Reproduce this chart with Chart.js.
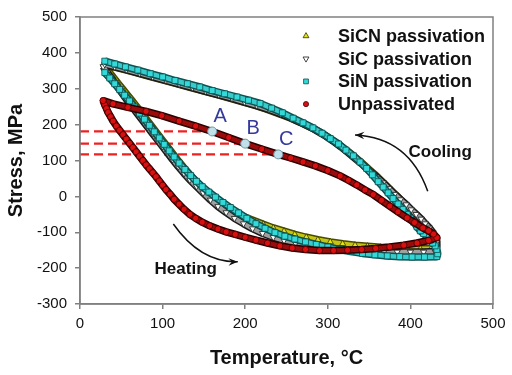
<!DOCTYPE html>
<html>
<head>
<meta charset="utf-8">
<script src="https://cdn.jsdelivr.net/npm/chart.js@4.4.0/dist/chart.umd.min.js"></script>
<style>
  html, body { margin: 0; padding: 0; background: #fff; }
  #wrap { width: 512px; height: 375px; }
</style>
</head>
<body>
<div id="wrap"><canvas id="stressChart"></canvas></div>
<script>
// Stress vs temperature loops (heating then cooling)
const sicnT = [29,34,40,46,52,58,64,70,76,82,88,94,100,106,112,118,125,132,139,146,154,162,171,180,190,200,211,222,234,247,260,274,288,303,318,333,348,364,380,396,412,425,
               428,428,426,422,417,413,408,403,397,391,385,378,371,364,357,349,341,332,323,313,303,292,280,267,254,240,226,211,196,181,165,149,133,117,101,85,69,53,40,29];
const sicnS = [368,350,333,315,298,281,264,246,228,210,192,174,156,138,120,102,82,63,45,28,11,-5,-21,-35,-49,-58,-68,-78,-88,-97,-106,-114,-121,-127,-132,-136,-139,-142,-144,-145,-146,-146,
               -133,-119,-106,-93,-81,-69,-56,-43,-30,-16,-2,13,29,45,61,77,94,111,128,145,161,177,192,206,219,231,243,254,264,274,284,294,304,314,324,334,344,354,362,368];

const sicT = [28,33,38,43,48,53,58,64,70,76,82,88,94,100,106,112,119,126,133,141,149,158,167,177,187,198,209,221,234,247,261,275,290,305,320,336,352,368,384,400,416,430,
              432,432,430,427,423,418,413,407,401,395,388,381,374,367,359,351,343,334,325,316,306,295,283,270,257,243,229,214,199,184,168,152,136,120,104,88,72,56,42,30];
const sicS = [362,345,329,313,297,281,265,247,229,211,193,175,157,139,121,103,83,64,46,28,10,-10,-28,-45,-61,-76,-90,-103,-114,-123,-131,-137,-142,-146,-149,-151,-153,-154,-155,-155,-155,-154,
              -140,-126,-113,-100,-88,-76,-63,-50,-37,-23,-9,6,22,38,54,70,87,104,121,138,155,172,188,203,217,230,242,253,263,273,283,293,303,313,323,333,343,353,361,368];

const sinT = [30,36,42,48,54,60,66,72,78,84,90,96,102,108,114,120,127,134,141,148,156,164,173,182,192,202,213,224,236,248,260,273,286,300,314,328,342,357,372,387,402,417,432,
              433,432,430,427,424,420,416,412,408,404,400,396,391,385,379,373,367,361,354,347,339,331,322,313,303,293,282,270,258,245,232,218,204,190,175,160,145,130,115,100,85,70,55,42,30];
const sinS = [345,330,314,298,282,266,249,232,215,198,180,163,145,127,110,93,75,58,42,27,12,-2,-17,-31,-46,-61,-76,-89,-101,-111,-119,-127,-134,-141,-148,-154,-159,-163,-166,-168,-169,-169,-168,
              -160,-148,-138,-130,-122,-113,-104,-96,-85,-72,-61,-50,-36,-21,-6,10,26,41,60,78,96,113,129,146,161,176,191,205,218,233,246,259,268,277,286,295,305,314,323,333,342,352,361,369,377];

const unpT = [28,30,32,34,37,40,44,48,52,56,60,64,68,72,76,80,84,88,92,96,100,104,109,114,120,126,133,140,148,157,167,177,188,200,213,227,242,257,273,290,307,324,341,358,375,392,408,422,432,
              428,422,415,405,396,385,375,365,355,345,335,325,315,300,285,270,255,240,220,200,180,160,140,120,99,80,58,40,28];
const unpS = [267,255,245,234,222,210,196,184,172,160,148,136,124,112,100,88,77,66,55,43,31,19,6,-8,-22,-36,-50,-61,-72,-82,-91,-99,-106,-114,-122,-130,-138,-144,-148,-151,-151,-150,-148,-145,-141,-136,-130,-123,-115,
              -105,-96,-88,-73,-60,-43,-27,-11,5,18,32,45,57,72,85,96,107,117,132,147,164,181,196,210,225,237,248,258,267];

// marked points on the unpassivated cooling curve
const markT = [160, 200, 240];
const markS = [181, 147, 117];
const markLabels = ['A', 'B', 'C'];

const seriesNames = ['SiCN passivation', 'SiC passivation', 'SiN passivation', 'Unpassivated'];

const FONT = "'Liberation Sans', Arial, sans-serif";

function toXY(xs, ys) {
  return xs.map((x, i) => ({ x: x, y: ys[i] }));
}

const series = [
  { t: sicnT, s: sicnS, shape: 'triangle', rot: 0, r: 3.6, fill: '#e2e21a', edge: '#333300', band: '#c4c412', rim: '#4a4a00', order: 4 },
  { t: sicT, s: sicS, shape: 'triangle', rot: 180, r: 3.6, fill: '#ffffff', edge: '#1a1a1a', band: '#a0a0a0', rim: '#1a1a1a', order: 3 },
  { t: sinT, s: sinS, shape: 'rect', rot: 0, r: 4.2, fill: '#33dada', edge: '#0d4c4c', band: '#36cccc', rim: '#0f5050', order: 2 },
  { t: unpT, s: unpS, shape: 'circle', rot: 0, r: 3.1, fill: '#d81010', edge: '#4a0000', band: '#9a0c0c', rim: '#2a0000', order: 1 }
];

const datasets = [];
series.forEach((sr, i) => {
  datasets.push({
    label: seriesNames[i], data: toXY(sr.t, sr.s), order: sr.order,
    showLine: true, borderColor: sr.band, borderWidth: 4.5, borderJoinStyle: 'round',
    pointStyle: sr.shape, pointRotation: sr.rot, pointRadius: sr.r,
    pointBackgroundColor: sr.fill, pointBorderColor: sr.edge, pointBorderWidth: 0.8
  });
});
// dark rim under each band
series.forEach((sr, i) => {
  datasets.push({
    label: '_rim' + i, data: toXY(sr.t, sr.s), order: sr.order + 0.5,
    showLine: true, borderColor: sr.rim, borderWidth: 7.5, borderJoinStyle: 'round', pointRadius: 0
  });
});

// dashed guides from the stress axis to the marked points
markT.forEach((t, i) => {
  datasets.push({
    label: '_dash' + i, data: [{ x: 0, y: markS[i] }, { x: t, y: markS[i] }], order: 6,
    showLine: true, borderColor: '#ee2020', borderWidth: 2.2, borderDash: [9, 5],
    pointRadius: 0
  });
});

datasets.push({
  label: '_marks', data: toXY(markT, markS), order: 0,
  pointStyle: 'circle', pointRadius: 4.5, pointBackgroundColor: '#c2e0ea',
  pointBorderColor: '#6f9aa6', pointBorderWidth: 1
});

const overlay = {
  id: 'overlay',
  afterDatasetsDraw(chart) {
    const { ctx, chartArea, scales: { x, y } } = chart;
    ctx.save();

    // frame
    ctx.strokeStyle = '#808080';
    ctx.lineWidth = 1.5;
    ctx.strokeRect(chartArea.left, chartArea.top, chartArea.right - chartArea.left, chartArea.bottom - chartArea.top);

    // A, B, C labels
    ctx.fillStyle = '#343a9c';
    ctx.font = '20px ' + FONT;
    ctx.textAlign = 'center';
    ctx.textBaseline = 'middle';
    markT.forEach((t, i) => {
      ctx.fillText(markLabels[i], x.getPixelForValue(t) + 8, y.getPixelForValue(markS[i]) - 15);
    });

    // heating / cooling notes
    ctx.fillStyle = '#111';
    ctx.font = 'bold 17px ' + FONT;
    ctx.fillText('Cooling', x.getPixelForValue(436), y.getPixelForValue(124));
    ctx.fillText('Heating', x.getPixelForValue(128), y.getPixelForValue(-204));

    function arrow(p0, c, p2) {
      const a = [x.getPixelForValue(p0[0]), y.getPixelForValue(p0[1])];
      const b = [x.getPixelForValue(c[0]), y.getPixelForValue(c[1])];
      const e = [x.getPixelForValue(p2[0]), y.getPixelForValue(p2[1])];
      ctx.strokeStyle = '#111';
      ctx.lineWidth = 1.5;
      ctx.beginPath();
      ctx.moveTo(a[0], a[1]);
      ctx.quadraticCurveTo(b[0], b[1], e[0], e[1]);
      ctx.stroke();
      const ang = Math.atan2(e[1] - b[1], e[0] - b[0]);
      const len = 10, spread = 0.38;
      ctx.fillStyle = '#111';
      ctx.beginPath();
      ctx.moveTo(e[0], e[1]);
      ctx.lineTo(e[0] - len * Math.cos(ang - spread), e[1] - len * Math.sin(ang - spread));
      ctx.lineTo(e[0] - len * 0.6 * Math.cos(ang), e[1] - len * 0.6 * Math.sin(ang));
      ctx.lineTo(e[0] - len * Math.cos(ang + spread), e[1] - len * Math.sin(ang + spread));
      ctx.closePath();
      ctx.fill();
    }
    arrow([421, 14], [398, 164], [333, 171]);
    arrow([113, -77], [146, -185], [191, -182]);

    // legend
    ctx.font = 'bold 18px ' + FONT;
    ctx.textAlign = 'left';
    const lx = chartArea.right - 187;
    chart.data.datasets.forEach((ds, i) => {
      if (ds.label.startsWith('_')) return;
      const ly = chartArea.top + 19 + i * 22.7;
      ctx.fillStyle = ds.pointBackgroundColor;
      ctx.strokeStyle = ds.pointBorderColor;
      ctx.lineWidth = 0.8;
      Chart.helpers.drawPoint(ctx, {
        pointStyle: ds.pointStyle, rotation: ds.pointRotation || 0,
        radius: ds.pointStyle === 'circle' ? 2.6 : 3.4, borderWidth: 0.8
      }, lx, ly);
      ctx.fillStyle = '#111';
      ctx.fillText(ds.label, lx + 32, ly + 1);
    });

    ctx.restore();
  }
};

new Chart(document.getElementById('stressChart'), {
  type: 'scatter',
  data: { datasets: datasets },
  options: {
    responsive: true,
    maintainAspectRatio: false,
    animation: false,
    devicePixelRatio: 1,
    layout: { padding: { left: 0, right: 19, top: 13, bottom: 0 } },
    plugins: { legend: { display: false }, tooltip: { enabled: false } },
    scales: {
      x: {
        type: 'linear', min: 0, max: 500,
        ticks: { stepSize: 100, color: '#111', padding: 6, font: { family: FONT, size: 15 } },
        grid: { drawOnChartArea: false, drawTicks: true, tickLength: 5, color: '#808080', lineWidth: 1.5 },
        border: { color: '#808080', width: 1.5 },
        title: { display: true, text: 'Temperature, °C', color: '#111',
                 font: { family: FONT, size: 20, weight: 'bold' }, padding: { top: 0, bottom: 5 } },
        afterFit(scale) { scale.height = 71; }
      },
      y: {
        type: 'linear', min: -300, max: 500,
        ticks: { stepSize: 100, color: '#111', padding: 8, font: { family: FONT, size: 15 } },
        grid: { drawOnChartArea: false, drawTicks: true, tickLength: 5, color: '#808080', lineWidth: 1.5 },
        border: { color: '#808080', width: 1.5 },
        title: { display: true, text: 'Stress, MPa', color: '#111',
                 font: { family: FONT, size: 20, weight: 'bold' }, padding: { top: 4, bottom: 0 } },
        afterFit(scale) { scale.width = 80; }
      }
    }
  },
  plugins: [overlay]
});
</script>
</body>
</html>
